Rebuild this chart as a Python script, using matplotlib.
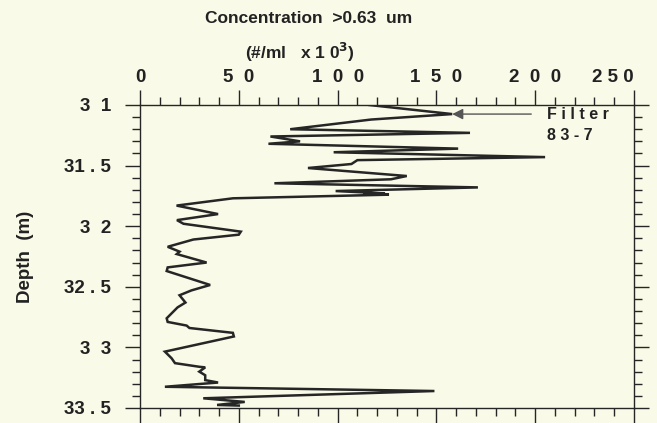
import numpy as np
import matplotlib.pyplot as plt
from matplotlib.ticker import MultipleLocator

plt.rcParams['font.family'] = ['Liberation Sans', 'DejaVu Sans']
plt.rcParams['font.weight'] = 'bold'

# ── data ─────────────────────────────────────────────────────────────────────
depth = [31.00, 31.075, 31.12, 31.20, 31.23, 31.26, 31.30, 31.32, 31.36, 31.39,
         31.43, 31.455, 31.487, 31.52, 31.586, 31.613, 31.646, 31.68, 31.71, 31.73,
         31.725, 31.74, 31.77, 31.83, 31.90, 31.95, 31.98, 32.045, 32.07, 32.11,
         32.17, 32.21, 32.23, 32.30, 32.34, 32.37, 32.485, 32.53, 32.57, 32.63,
         32.67, 32.76, 32.79, 32.82, 32.84, 32.88, 32.91, 33.035, 33.09, 33.13,
         33.16, 33.165, 33.20, 33.23, 33.27, 33.29, 33.325, 33.36, 33.42, 33.45,
         33.475, 33.48]
conc = [116, 158, 117, 76, 167, 66, 81, 65, 161, 98,
        205, 110, 107, 85, 135, 127, 68, 171, 99, 124,
        113, 126, 47, 18.5, 39.5, 18.7, 22, 51, 50, 27,
        14, 20, 18.6, 33.7, 14, 13.5, 35.5, 26, 20, 23,
        19, 13.5, 14, 23.6, 25, 47, 47.5, 12.6, 16, 17.7,
        30, 33, 30, 33, 33, 39.5, 12.6, 149, 32, 53,
        39, 50]

x_ticks = [0, 50, 100, 150, 200, 250]
x_labels = ["0", "5  0", "1  0  0", "1  5  0", "2  0  0", "2 5 0"]
y_ticks = [31, 31.5, 32, 32.5, 33, 33.5]
y_labels = ["3  1", "31 . 5", "3  2", "32 . 5", "3  3", "33 . 5"]

BG = "#FAFAE8"
INK = "#262626"

fig = plt.figure(figsize=(6.57, 4.23), dpi=100, facecolor=BG)
ax = fig.add_axes([0.2131, 0.0355, 0.7519, 0.7163], facecolor=BG)

ax.plot(conc, depth, color=INK, linewidth=1.8, solid_joinstyle='miter')

ax.set_xlim(0, 250)
ax.set_ylim(33.5, 31)

ax.set_xticks(x_ticks)
ax.set_xticklabels(x_labels)
ax.set_yticks(y_ticks)
ax.set_yticklabels(y_labels)
ax.xaxis.set_minor_locator(MultipleLocator(10))
ax.yaxis.set_minor_locator(MultipleLocator(0.1))

ax.tick_params(axis='x', which='both', top=True, bottom=True,
               labeltop=True, labelbottom=False, direction='out',
               color=INK, labelsize=13.5, pad=3)
ax.tick_params(axis='y', which='both', left=True, right=True,
               labelleft=True, labelright=False, direction='out',
               color=INK, labelsize=13.5, pad=10)
ax.tick_params(which='major', length=11, width=1.0)
ax.tick_params(which='minor', length=6, width=1.0)
for lbl in ax.get_xticklabels() + ax.get_yticklabels():
    lbl.set_fontweight('bold')
    lbl.set_color("#222222")
# last top label sits against the figure edge, pull it in a bit
ax.get_xticklabels()[-1].set_horizontalalignment('right')
ax.get_xticklabels()[-1].set_x(260)

for sp in ax.spines.values():
    sp.set_color(INK)
    sp.set_linewidth(1.0)

ax.set_ylabel("Depth  (m)", fontsize=13.5, fontweight='bold', color="#222222")
ax.yaxis.set_label_coords(-0.215, 0.5)

fig.text(0.469, 0.957, "Concentration  >0.63  um", ha='center', va='center',
         fontsize=12.5, fontweight='bold', color="#222222")
fig.text(0.457, 0.877, "(#/ml   x 1 0$^{\\mathbf{3}}$)", ha='center', va='center',
         fontsize=12.5, fontweight='bold', color="#222222")

ax.annotate("", xy=(158, 31.075), xytext=(198, 31.075),
            arrowprops=dict(arrowstyle='-|>', color="#555555", lw=1.0,
                            mutation_scale=16, shrinkA=0, shrinkB=0))
ax.text(206, 31.075, "F i l t e r", fontsize=11.5, fontweight='bold',
        color="#222222", va='center', ha='left')
ax.text(206, 31.25, "8 3 - 7", fontsize=11.5, fontweight='bold',
        color="#222222", va='center', ha='left')

fig.savefig("out.png", dpi=100, facecolor=BG)
